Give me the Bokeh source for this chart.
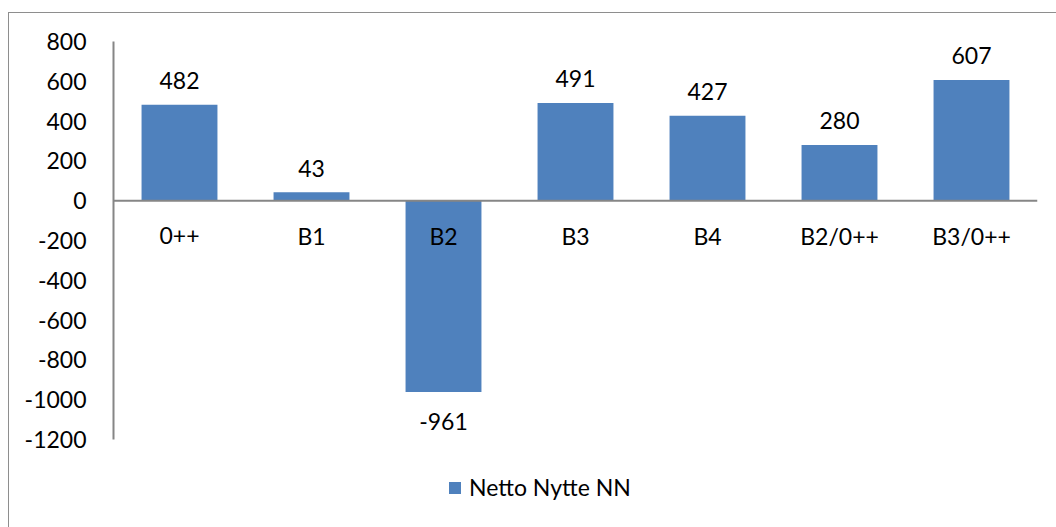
from bokeh.plotting import figure
from bokeh.models import Range1d, FactorRange, FixedTicker, Span, ColumnDataSource
from bokeh.core.properties import value
from bokeh.embed import file_html
from bokeh.resources import INLINE

# Net benefit per alternative
categories = ["0++", "B1", "B2", "B3", "B4", "B2/0++", "B3/0++"]
netto_nytte = [482, 43, -961, 491, 427, 280, 607]
series_name = "Netto Nytte NN"

# y axis ticks and their labels
y_ticks = [-1200, -1000, -800, -600, -400, -200, 0, 200, 400, 600, 800]
y_tick_labels = ["-1200", "-1000", "-800", "-600", "-400", "-200", "0", "200", "400", "600", "800"]
y_min, y_max = -1200, 800

FONT = "Lato"
FONT_SIZE = "23px"
BAR_COLOR = "#4F81BD"
AXIS_COLOR = "#868686"

# plot frame geometry (pixels); the frame runs down to the bottom edge so the
# legend below the axis can sit inside it
FIG_W, FIG_H = 1050, 517
TOP, LEFT, RIGHT = 28, 104, 22
AXIS_PX = 398  # height of the drawn axis from y_min to y_max
units_per_px = (y_max - y_min) / AXIS_PX
y_start = y_max - (FIG_H - TOP) * units_per_px

src = ColumnDataSource(dict(
    cat=categories,
    val=netto_nytte,
    txt=[str(v) for v in netto_nytte],
    off=[-24 if v >= 0 else 30 for v in netto_nytte],
    zero=[0] * len(categories),
))

p = figure(
    width=FIG_W, height=FIG_H,
    x_range=FactorRange(*categories, range_padding=0),
    y_range=Range1d(y_start, y_max),
    output_backend="svg", toolbar_location=None,
    min_border_left=LEFT, min_border_right=RIGHT,
    min_border_top=TOP, min_border_bottom=0,
    background_fill_color="white", border_fill_color="white",
)
# chart frame
p.margin = (12, 0, 0, 8)
p.styles = {"border": "1px solid #8e8e8e"}
p.outline_line_color = None
p.xgrid.visible = False
p.ygrid.visible = False
p.xaxis.visible = False

yax = p.yaxis[0]
yax.bounds = (y_min, y_max)
yax.ticker = FixedTicker(ticks=y_ticks)
yax.major_label_overrides = {t: s for t, s in zip(y_ticks, y_tick_labels)}
yax.axis_line_color = AXIS_COLOR
yax.axis_line_width = 2
yax.major_tick_line_color = None
yax.minor_tick_line_color = None
yax.major_label_standoff = 21
yax.major_label_text_font = FONT
yax.major_label_text_font_size = FONT_SIZE
yax.major_label_text_color = "black"

p.vbar(x="cat", top="val", bottom=0, width=0.575, source=src,
       fill_color=BAR_COLOR, line_color=None, legend_label=series_name)

p.add_layout(Span(location=0, dimension="width", line_color=AXIS_COLOR, line_width=2))

# value labels
p.text(x="cat", y="val", text="txt", y_offset="off", source=src,
       text_align="center", text_baseline="middle",
       text_font=value(FONT), text_font_size=FONT_SIZE, text_color="black")

# category labels along the zero line
p.text(x="cat", y="zero", text="cat", y_offset=35, source=src,
       text_align="center", text_baseline="middle",
       text_font=value(FONT), text_font_size=FONT_SIZE, text_color="black")

lg = p.legend[0]
lg.location = (334, 29)
lg.orientation = "horizontal"
lg.border_line_color = None
lg.background_fill_alpha = 0
lg.padding = 0
lg.margin = 0
lg.glyph_width = 15
lg.glyph_height = 15
lg.label_height = 15
lg.label_standoff = 7
lg.label_text_font = FONT
lg.label_text_font_size = FONT_SIZE
lg.label_text_color = "black"

open("out.html", "w").write(file_html(p, INLINE))
